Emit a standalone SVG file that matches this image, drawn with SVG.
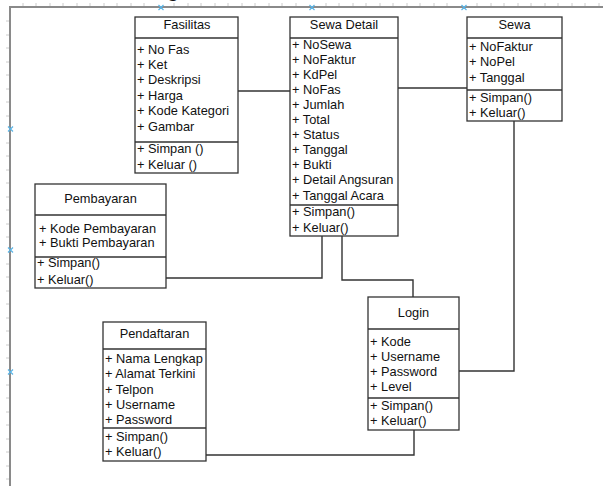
<svg xmlns="http://www.w3.org/2000/svg" width="603" height="486" viewBox="0 0 603 486">
<style>
text{font-family:"Liberation Sans",Arial,sans-serif;font-size:12.8px;fill:#111}
.t{text-anchor:middle}
.box{fill:#fff;stroke:#333;stroke-width:1.3}
.sep{stroke:#333;stroke-width:1.3}
.con{fill:none;stroke:#333;stroke-width:1.4}
.frame{stroke:#8a8a8a;stroke-width:2;fill:none}
.tick{stroke:#ccc;stroke-width:1}
.mk{stroke:#5ab4e6;stroke-width:1.2}
</style>
<rect width="603" height="486" fill="#fff"/>
<text x="167" y="-3" style="font-size:20px;font-weight:bold">g</text>
<g id="frame">
<path class="tick" d="M23 3v4M36 3v4M50 3v4M63 3v4M77 3v4M90 3v4M104 3v4M117 3v4M131 3v4M144 3v4M174 3v4M188 3v4M201 3v4M215 3v4M228 3v4M242 3v4M255 3v4M269 3v4M282 3v4M296 3v4M326 3v4M339 3v4M353 3v4M366 3v4M380 3v4M393 3v4M407 3v4M420 3v4M434 3v4M447 3v4M477 3v4M491 3v4M504 3v4M518 3v4M531 3v4M545 3v4M558 3v4M572 3v4M585 3v4M599 3v4"/>
<path class="tick" d="M6 21h4M6 35h4M6 48h4M6 62h4M6 75h4M6 89h4M6 102h4M6 116h4M6 143h4M6 156h4M6 170h4M6 183h4M6 197h4M6 210h4M6 224h4M6 237h4M6 264h4M6 277h4M6 291h4M6 304h4M6 318h4M6 331h4M6 345h4M6 358h4M6 385h4M6 398h4M6 412h4M6 425h4M6 439h4M6 452h4M6 466h4M6 479h4"/>
<path class="frame" d="M10 486V7H603"/>
<path class="mk" d="M158.5 5l5 5M163.5 5l-5 5M309.5 5l5 5M314.5 5l-5 5M461.5 5l5 5M466.5 5l-5 5"/>
<path class="mk" d="M8 126.5l5 5M13 126.5l-5 5M8 247.5l5 5M13 247.5l-5 5M8 369.5l5 5M13 369.5l-5 5"/>
</g>
<g id="connectors">
<path class="con" d="M238 91H290"/>
<path class="con" d="M398 88H467"/>
<path class="con" d="M514 121V371H459"/>
<path class="con" d="M322 236V278H166"/>
<path class="con" d="M342 236V280H413V297"/>
<path class="con" d="M206 455H414V430"/>
</g>
<g id="fasilitas">
<rect class="box" x="135" y="17" width="103" height="156"/>
<line class="sep" x1="135" y1="38" x2="238" y2="38"/>
<line class="sep" x1="135" y1="142" x2="238" y2="142"/>
<text class="t" x="187" y="29">Fasilitas</text>
<text x="137" y="53.5">+ No Fas</text>
<text x="137" y="68.5">+ Ket</text>
<text x="137" y="84">+ Deskripsi</text>
<text x="137" y="99.5">+ Harga</text>
<text x="137" y="115">+ Kode Kategori</text>
<text x="137" y="130.5">+ Gambar</text>
<text x="137" y="153">+ Simpan ()</text>
<text x="137" y="168.5">+ Keluar ()</text>
</g>
<g id="sewa-detail">
<rect class="box" x="290" y="17" width="108" height="219"/>
<line class="sep" x1="290" y1="38" x2="398" y2="38"/>
<line class="sep" x1="290" y1="205" x2="398" y2="205"/>
<text class="t" x="344" y="29">Sewa Detail</text>
<text x="292" y="48.5">+ NoSewa</text>
<text x="292" y="63.6">+ NoFaktur</text>
<text x="292" y="78.7">+ KdPel</text>
<text x="292" y="93.8">+ NoFas</text>
<text x="292" y="108.9">+ Jumlah</text>
<text x="292" y="124">+ Total</text>
<text x="292" y="139.1">+ Status</text>
<text x="292" y="154.2">+ Tanggal</text>
<text x="292" y="169.3">+ Bukti</text>
<text x="292" y="184.4">+ Detail Angsuran</text>
<text x="292" y="199.5">+ Tanggal Acara</text>
<text x="292" y="216">+ Simpan()</text>
<text x="292" y="231.5">+ Keluar()</text>
</g>
<g id="sewa">
<rect class="box" x="467" y="17" width="95" height="104"/>
<line class="sep" x1="467" y1="38" x2="562" y2="38"/>
<line class="sep" x1="467" y1="90" x2="562" y2="90"/>
<text class="t" x="514.5" y="29">Sewa</text>
<text x="469" y="50.5">+ NoFaktur</text>
<text x="469" y="66">+ NoPel</text>
<text x="469" y="81.5">+ Tanggal</text>
<text x="469" y="101.5">+ Simpan()</text>
<text x="469" y="116.5">+ Keluar()</text>
</g>
<g id="pembayaran">
<rect class="box" x="35" y="184" width="131" height="104"/>
<line class="sep" x1="35" y1="215" x2="166" y2="215"/>
<line class="sep" x1="35" y1="257" x2="166" y2="257"/>
<text class="t" x="100.5" y="202.5">Pembayaran</text>
<text x="39" y="232.5">+ Kode Pembayaran</text>
<text x="39" y="246.5">+ Bukti Pembayaran</text>
<text x="37" y="266.5">+ Simpan()</text>
<text x="37" y="283.5">+ Keluar()</text>
</g>
<g id="pendaftaran">
<rect class="box" x="103" y="322" width="103" height="139"/>
<line class="sep" x1="103" y1="349" x2="206" y2="349"/>
<line class="sep" x1="103" y1="428" x2="206" y2="428"/>
<text class="t" x="154.5" y="337.5">Pendaftaran</text>
<text x="105" y="362.5">+ Nama Lengkap</text>
<text x="105" y="378">+ Alamat Terkini</text>
<text x="105" y="393.5">+ Telpon</text>
<text x="105" y="408.5">+ Username</text>
<text x="105" y="423.5">+ Password</text>
<text x="105" y="440.5">+ Simpan()</text>
<text x="105" y="456">+ Keluar()</text>
</g>
<g id="login">
<rect class="box" x="368" y="297" width="91" height="133"/>
<line class="sep" x1="368" y1="329" x2="459" y2="329"/>
<line class="sep" x1="368" y1="398" x2="459" y2="398"/>
<text class="t" x="413.5" y="316.5">Login</text>
<text x="370" y="345.5">+ Kode</text>
<text x="370" y="360.5">+ Username</text>
<text x="370" y="375.5">+ Password</text>
<text x="370" y="390.5">+ Level</text>
<text x="370" y="409.5">+ Simpan()</text>
<text x="370" y="425">+ Keluar()</text>
</g>
</svg>
